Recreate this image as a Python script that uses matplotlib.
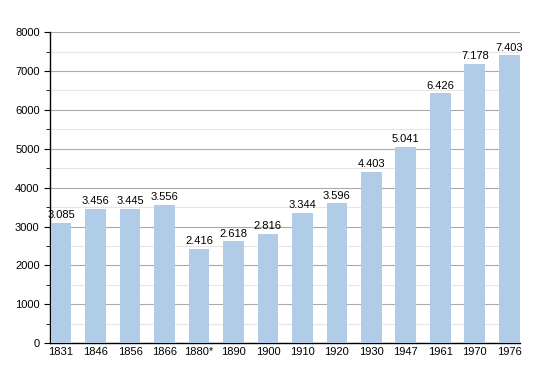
import matplotlib
matplotlib.use("Agg")
import matplotlib.pyplot as plt
from matplotlib.ticker import MultipleLocator

years = ["1831", "1846", "1856", "1866", "1880*", "1890", "1900",
         "1910", "1920", "1930", "1947", "1961", "1970", "1976"]
population = [3085, 3456, 3445, 3556, 2416, 2618, 2816,
              3344, 3596, 4403, 5041, 6426, 7178, 7403]

plt.rcParams["font.family"] = ["Liberation Sans", "DejaVu Sans"]

fig = plt.figure(figsize=(5.5, 3.73), dpi=100)
ax = fig.add_axes([0.091, 0.080, 0.855, 0.834])

x = range(len(years))
ax.bar(x, population, width=0.6, color="#b0cce6", zorder=3)

for i, v in zip(x, population):
    label = f"{v:,}".replace(",", ".")
    ax.text(i, v + 70, label, ha="center", va="bottom", fontsize=8, zorder=4)

ax.set_ylim(0, 8000)
ax.set_xlim(-0.32, 13.32)
ax.yaxis.set_major_locator(MultipleLocator(1000))
ax.yaxis.set_minor_locator(MultipleLocator(500))
ax.grid(axis="y", which="major", color="#aaaaaa", linewidth=0.8, zorder=0)
ax.grid(axis="y", which="minor", color="#e6e6e6", linewidth=0.8, zorder=0)

ax.set_xticks(list(x))
ax.set_xticklabels(years)
ax.tick_params(axis="x", length=0, labelsize=8, pad=3)
ax.tick_params(axis="y", which="major", length=4, labelsize=8, direction="out")
ax.tick_params(axis="y", which="minor", length=3, direction="out")

for side in ["top", "right"]:
    ax.spines[side].set_visible(False)
ax.spines["left"].set_linewidth(1.0)
ax.spines["bottom"].set_linewidth(1.0)

fig.savefig("out.png", dpi=100)
